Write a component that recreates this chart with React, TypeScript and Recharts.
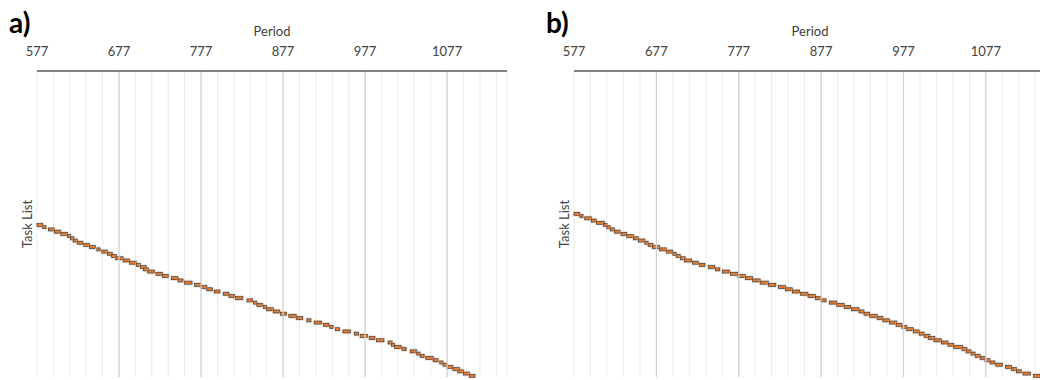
import { Bar, BarChart, CartesianGrid, ReferenceLine, XAxis, YAxis } from "recharts"

// period axis
const periodMin = 577
const periodMax = 1150
const majorTicks = [577, 677, 777, 877, 977, 1077]
const gridTicks = Array.from({ length: 29 }, (_, i) => periodMin + i * 20)

// task rows on the list (row 1 at the top)
const taskCount = 138
const firstTaskA = 70
const firstTaskB = 65

// a) schedule: start / end period of each task
const startsA = [
  577, 584, 591, 598, 606, 614, 618, 621, 626, 634, 641, 650, 656, 663, 668, 673, 682, 690, 698, 703,
  707, 712, 722, 730, 741, 749, 757, 769, 777, 784, 793, 804, 811, 819, 833, 841, 845, 853, 857, 865,
  874, 884, 893, 906, 915, 926, 934, 941, 950, 964, 971, 982, 991, 1005, 1009, 1013, 1022, 1032, 1040, 1044,
  1051, 1060, 1068, 1072, 1077, 1084, 1090, 1097, 1104,
]
const endsA = [
  584, 588, 598, 606, 614, 618, 622, 626, 633, 641, 648, 654, 663, 669, 674, 682, 690, 698, 703, 710,
  713, 720, 730, 737, 749, 755, 766, 777, 784, 791, 800, 811, 818, 828, 840, 845, 852, 857, 865, 873,
  881, 893, 901, 911, 924, 933, 938, 946, 959, 969, 980, 989, 1000, 1010, 1013, 1021, 1027, 1040, 1044, 1049,
  1060, 1066, 1072, 1077, 1084, 1092, 1097, 1104, 1111,
]

// b) schedule: start / end period of each task
const startsB = [
  577, 584, 590, 598, 604, 613, 617, 621, 626, 634, 641, 649, 655, 663, 667, 672, 681, 689, 697, 701,
  706, 711, 721, 729, 740, 749, 757, 767, 776, 785, 794, 803, 813, 825, 834, 842, 852, 861, 870, 877,
  887, 896, 905, 914, 923, 929, 936, 945, 952, 960, 968, 975, 981, 989, 996, 1002, 1007, 1014, 1023, 1031,
  1038, 1048, 1053, 1059, 1064, 1070, 1076, 1082, 1089, 1101, 1108, 1114, 1122, 1135,
]
const endsB = [
  584, 588, 598, 604, 614, 617, 621, 626, 633, 641, 649, 655, 663, 667, 673, 681, 689, 697, 701, 706,
  712, 720, 728, 736, 748, 754, 766, 776, 785, 794, 803, 813, 822, 834, 842, 851, 861, 870, 877, 883,
  896, 905, 913, 923, 929, 936, 945, 952, 960, 969, 975, 981, 989, 996, 1002, 1009, 1015, 1023, 1031, 1038,
  1049, 1054, 1059, 1064, 1070, 1076, 1082, 1088, 1097, 1108, 1114, 1120, 1131, 1143,
]

const toRows = (first: number, starts: number[], ends: number[]) =>
  starts.map((s, i) => ({ task: first + i, span: [s, ends[i]] }))

const dataA = toRows(firstTaskA, startsA, endsA)
const dataB = toRows(firstTaskB, startsB, endsB)

const font = "Lato, 'Open Sans', sans-serif"

// orange task bar with a dark edge and a soft grey halo
const TaskBar = (props: any) => {
  const { x, y, width, height } = props
  if (width == null || !isFinite(width)) return null
  const cy = y + height / 2
  const h = 3
  return (
    <g>
      <rect x={x - 1.2} y={cy - h / 2 - 1.3} width={width + 2.4} height={h + 2.6} rx={1.5} fill="#cccccc" opacity={0.55} />
      <rect x={x} y={cy - h / 2} width={width} height={h} fill="#e37b31" stroke="#3a2c22" strokeWidth={0.6} />
    </g>
  )
}

function Schedule({ data, width, left, right }: { data: any[]; width: number; left: number; right: number }) {
  return (
    <BarChart
      width={width}
      height={380}
      layout="vertical"
      data={data}
      margin={{ top: 20, right, bottom: 3, left }}
      style={{ fontFamily: font }}
    >
      <CartesianGrid horizontal={false} stroke="#ebebeb" strokeWidth={1} />
      {majorTicks.slice(1).map((t) => (
        <ReferenceLine key={t} x={t} stroke="#d2d2d2" strokeWidth={1.2} />
      ))}
      <XAxis
        type="number"
        orientation="top"
        domain={[periodMin, periodMax]}
        ticks={gridTicks}
        interval={0}
        height={51}
        tickLine={false}
        tickSize={0}
        tickMargin={15}
        tickFormatter={(v: number) => (majorTicks.includes(v) ? String(v) : "")}
        tick={{ fill: "#404040", fontSize: 13 }}
        axisLine={{ stroke: "#595959", strokeWidth: 1.5 }}
        label={{ value: "Period", position: "insideTop", offset: 7, fill: "#404040", fontSize: 13 }}
      />
      <YAxis
        type="number"
        dataKey="task"
        domain={[0.5, taskCount + 0.5]}
        width={20}
        tick={false}
        tickLine={false}
        axisLine={false}
        label={{ value: "Task List", angle: -90, position: "center", fill: "#404040", fontSize: 13 }}
      />
      <Bar dataKey="span" barSize={3} shape={TaskBar} isAnimationActive={false} />
    </BarChart>
  )
}

export default function App() {
  return (
    <div style={{ position: "absolute", left: 0, top: 0, width: 1040, height: 380, overflow: "hidden", background: "#fff" }}>
      <div style={{ position: "absolute", left: 0, top: 0 }}>
        <Schedule data={dataA} width={520} left={17} right={13} />
      </div>
      <div style={{ position: "absolute", left: 520, top: 0 }}>
        <Schedule data={dataB} width={540} left={34} right={14} />
      </div>
      <svg width={1040} height={380} style={{ position: "absolute", left: 0, top: 0, pointerEvents: "none" }}>
        <text x={9} y={33} fontFamily={font} fontWeight="bold" fontSize={28} fill="#000">
          a)
        </text>
        <text x={546} y={33} fontFamily={font} fontWeight="bold" fontSize={28} fill="#000">
          b)
        </text>
      </svg>
    </div>
  )
}
